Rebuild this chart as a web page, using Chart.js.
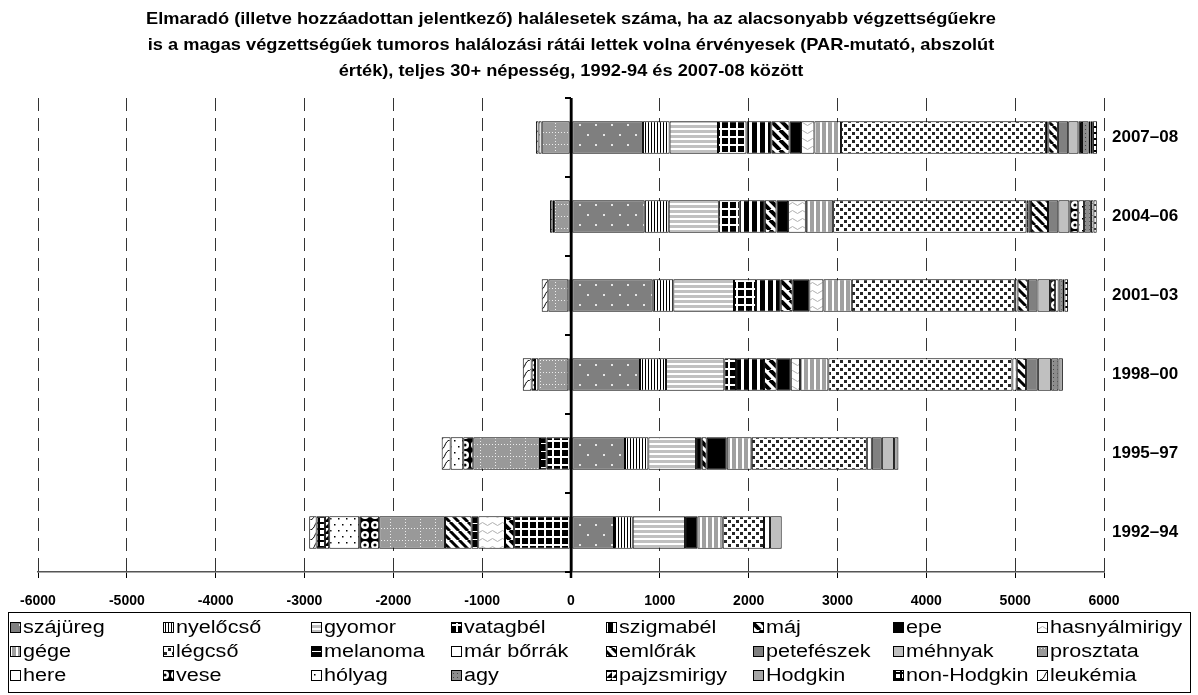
<!DOCTYPE html>
<html><head><meta charset="utf-8">
<script src="https://cdn.jsdelivr.net/npm/chart.js@4/dist/chart.umd.min.js"></script>
<style>html,body{margin:0;padding:0;background:#fff}#wrap{width:1198px;height:695px;position:relative}</style>
</head><body><div id="wrap"><canvas id="c"></canvas></div>
<script>
// ---------- DATA ----------
const categories = ['2007–08','2004–06','2001–03','1998–00','1995–97','1992–94'];
const xTickValues = [-6000,-5000,-4000,-3000,-2000,-1000,0,1000,2000,3000,4000,5000,6000];
const titleLines = [
  'Elmaradó (illetve hozzáadottan jelentkező) halálesetek száma, ha az alacsonyabb végzettségűekre',
  'is a magas végzettségűek tumoros halálozási rátái lettek volna érvényesek (PAR-mutató, abszolút',
  'érték), teljes 30+ népesség, 1992-94 és 2007-08 között'
];
const seriesNames = ['szájüreg','nyelőcső','gyomor','vatagbél','szigmabél','máj','epe','hasnyálmirigy',
  'gége','légcső','melanoma','már bőrrák','emlőrák','petefészek','méhnyak','prosztata',
  'here','vese','hólyag','agy','pajzsmirigy','Hodgkin','non-Hodgkin','leukémia'];
// values per category: 2007–08, 2004–06, 2001–03, 1998–00, 1995–97, 1992–94
const szajureg     = [810, 830, 920, 777, 608, 484];
const nyelocso     = [300, 270, 232, 293, 263, 211];
const gyomor       = [545, 564, 683, 656, 537, 589];
const vastagbel    = [320, 236, 248, 132, -274, -640];
const szigmabel    = [280, 282, 278, 315, 64, 0];
const maj          = [205, 131, 135, 143, 56, -103];
const epe          = [130, 131, 187, 158, 225, 138];
const hasnyal      = [150, 199, 158, 105, 0, -301];
const gege         = [300, 308, 320, 318, 282, 286];
const legcso       = [2306, 2176, 1835, 2072, 1295, 465];
const melanoma     = [15, 25, -30, -30, -75, -74];
const marborrak    = [12, 25, 31, 49, 56, 68];
const emlorak      = [108, 193, 116, 105, 0, -301];
const petefeszek   = [116, 116, 108, 132, 113, 0];
const mehnyak      = [115, 124, 142, 150, 138, 131];
const prosztata    = [-330, -190, -225, -338, -751, -740];
const here         = [0, 0, 0, -37, 0, 0];
const vese         = [40, 100, 57, -38, -113, -225];
const holyag       = [-35, 66, 39, 0, -142, -338];
const agy          = [75, 76, 46, 82, 0, 0];
const pajzsmirigy  = [20, 30, 20, 0, 0, -48];
const hodgkin      = [20, -20, 0, 50, 49, 0];
const nonHodgkin   = [55, 36, 41, 0, 0, -93];
const leukemia     = [-30, -26, -75, -100, -101, -84];
const seriesData = [szajureg, nyelocso, gyomor, vastagbel, szigmabel, maj, epe, hasnyal,
  gege, legcso, melanoma, marborrak, emlorak, petefeszek, mehnyak, prosztata,
  here, vese, holyag, agy, pajzsmirigy, hodgkin, nonHodgkin, leukemia];

// ---------- PATTERNS ----------
function tile(w, h, fn) {
  const c = document.createElement('canvas'); c.width = w; c.height = h;
  const g = c.getContext('2d'); fn(g, w, h); return g.createPattern(c, 'repeat');
}
function fill(g, col, x, y, w, h) { g.fillStyle = col; g.fillRect(x, y, w, h); }
function diag(g, w, h, lw, col) {
  g.strokeStyle = col; g.lineWidth = lw;
  for (const o of [-w, 0, w]) { g.beginPath(); g.moveTo(o, 0); g.lineTo(o + w, h); g.stroke(); }
}
const patterns = [
  tile(16, 20, g => { fill(g,'#7f7f7f',0,0,16,20); fill(g,'#e6e6e6',3,4,2,2); fill(g,'#e6e6e6',11,14,2,2); }),
  tile(3, 1, g => { fill(g,'#fff',0,0,3,1); fill(g,'#000',0,0,1,1); }),
  tile(1, 5, g => { fill(g,'#fff',0,0,1,5); fill(g,'#c0c0c0',0,0,1,3); }),
  tile(8, 8, g => { fill(g,'#000',0,0,8,8); fill(g,'#fff',0,0,2,8); fill(g,'#fff',0,0,8,2); }),
  tile(8, 1, g => { fill(g,'#fff',0,0,8,1); fill(g,'#000',0,0,5,1); }),
  tile(10, 10, g => { fill(g,'#fff',0,0,10,10); diag(g,10,10,4,'#000'); }),
  '#000000',
  tile(10, 8, g => { fill(g,'#fff',0,0,10,8); g.strokeStyle='#b0b0b0'; g.lineWidth=1; g.beginPath(); g.moveTo(0,4); g.quadraticCurveTo(2.5,1,5,4); g.quadraticCurveTo(7.5,7,10,4); g.stroke(); }),
  tile(6, 1, g => { fill(g,'#fff',0,0,6,1); fill(g,'#a0a0a0',0,0,4,1); }),
  tile(8, 8, g => { fill(g,'#fff',0,0,8,8); fill(g,'#262626',0,0,3,3); fill(g,'#262626',4,4,3,3); }),
  tile(4, 8, g => { fill(g,'#000',0,0,4,8); fill(g,'#fff',0,3,4,1); }),
  '#ffffff',
  tile(9, 9, g => { fill(g,'#fff',0,0,9,9); diag(g,9,9,3,'#000'); }),
  '#808080',
  '#c0c0c0',
  tile(15, 12, g => { fill(g,'#999',0,0,15,12); for (let y=0;y<12;y+=3) fill(g,'#eee',0,y,1,1); for (let x=0;x<15;x+=3) fill(g,'#eee',x,0,1,1); }),
  '#ffffff',
  tile(10, 10, g => { fill(g,'#000',0,0,10,10); g.fillStyle='#fff'; g.beginPath(); g.arc(5,5,4,0,Math.PI*2); g.fill(); g.fillStyle='#000'; g.beginPath(); g.arc(5,5,1.6,0,Math.PI*2); g.fill(); }),
  tile(8, 12, g => { fill(g,'#fff',0,0,8,12); fill(g,'#000',2,2,1.5,1.5); fill(g,'#000',6,8,1.5,1.5); }),
  tile(4, 4, g => { fill(g,'#8c8c8c',0,0,4,4); fill(g,'#444',1,1,1,1); }),
  tile(6, 6, g => { fill(g,'#fff',0,0,6,6); g.fillStyle='#000'; g.beginPath(); g.moveTo(6,0); g.lineTo(6,6); g.lineTo(0,6); g.fill(); }),
  '#a6a6a6',
  tile(6, 6, g => { fill(g,'#fff',0,0,6,6); fill(g,'#000',0,0,2,6); fill(g,'#000',0,0,6,2); }),
  tile(10, 10, g => { fill(g,'#fff',0,0,10,10); g.strokeStyle='#000'; g.lineWidth=1; g.beginPath(); g.moveTo(0,10); g.bezierCurveTo(6,9,4,1,10,0); g.stroke(); })
];

// ---------- PLUGINS ----------
const FONT = "'Liberation Sans', Arial, sans-serif";
const titlePlugin = {
  id: 'titleText',
  afterDraw(chart) {
    const ctx = chart.ctx, a = chart.chartArea;
    const cx = (a.left + a.right) / 2;
    ctx.save();
    ctx.fillStyle = '#000'; ctx.font = 'bold 17px ' + FONT;
    ctx.textAlign = 'center'; ctx.textBaseline = 'middle';
    const sx = 850 / ctx.measureText(titleLines[0]).width;
    titleLines.forEach((t, i) => {
      ctx.save(); ctx.translate(cx, 19 + i * 26); ctx.scale(sx, 1); ctx.fillText(t, 0, 0); ctx.restore();
    });
    ctx.restore();
  }
};
const axisPlugin = {
  id: 'zeroAxis',
  afterDatasetsDraw(chart) {
    const ctx = chart.ctx, a = chart.chartArea, xs = chart.scales.x, ys = chart.scales.y;
    const x0 = xs.getPixelForValue(0);
    ctx.save();
    ctx.strokeStyle = '#000'; ctx.lineWidth = 2.5;
    ctx.beginPath(); ctx.moveTo(x0, a.top); ctx.lineTo(x0, a.bottom + 6); ctx.stroke();
    ctx.lineWidth = 2;
    const n = categories.length;
    for (let i = 0; i <= n; i++) {
      let y;
      if (i === 0) y = a.top; else if (i === n) y = a.bottom;
      else y = (ys.getPixelForTick(i - 1) + ys.getPixelForTick(i)) / 2;
      ctx.beginPath(); ctx.moveTo(x0 - 6, y); ctx.lineTo(x0, y); ctx.stroke();
    }
    ctx.restore();
  }
};
const legendPlugin = {
  id: 'gridLegend',
  afterDraw(chart) {
    const ctx = chart.ctx;
    const colX = [10, 163, 311, 451, 606, 753, 893, 1037];
    const rowY = [627, 651, 675];
    ctx.save();
    ctx.strokeStyle = '#000'; ctx.lineWidth = 1;
    ctx.strokeRect(8.5, 612.5, 1182, 80);
    ctx.font = '18px ' + FONT; ctx.textBaseline = 'middle'; ctx.fillStyle = '#000';
    seriesNames.forEach((name, k) => {
      const x = colX[k % 8], y = rowY[Math.floor(k / 8)];
      ctx.fillStyle = patterns[k];
      ctx.fillRect(x, y - 5, 11, 11);
      ctx.strokeStyle = '#000'; ctx.strokeRect(x + 0.5, y - 4.5, 10, 10);
      ctx.fillStyle = '#000';
      ctx.save(); ctx.translate(x + 13, y + 1); ctx.scale(1.2, 1); ctx.fillText(name, 0, 0); ctx.restore();
    });
    ctx.restore();
  }
};

// ---------- CHART ----------
Chart.defaults.font.family = FONT;
Chart.defaults.color = '#000';
const datasets = seriesNames.map((name, i) => ({
  label: name,
  data: seriesData[i],
  backgroundColor: patterns[i],
  borderColor: '#000',
  borderWidth: 1,
  borderSkipped: false,
  barPercentage: 0.41,
  categoryPercentage: 1,
  stack: 'all'
}));

new Chart(document.getElementById('c'), {
  type: 'bar',
  data: { labels: categories, datasets },
  options: {
    indexAxis: 'y',
    responsive: true,
    maintainAspectRatio: false,
    animation: false,
    layout: { padding: { left: 38, right: 0, top: 98, bottom: 83 } },
    plugins: { legend: { display: false }, title: { display: false }, tooltip: { enabled: false } },
    scales: {
      x: {
        stacked: true, min: -6000, max: 6000,
        afterBuildTicks: s => { s.ticks = xTickValues.map(v => ({ value: v })); },
        afterFit: s => { s.height = 40; },
        ticks: { font: { size: 14, weight: 'bold' }, padding: 15, maxRotation: 0, autoSkip: false,
                 callback: v => String(v) },
        grid: {
          color: c => (c.tick && c.tick.value === 0) ? '#000' : '#333',
          lineWidth: c => (c.tick && c.tick.value === 0) ? 2.5 : 1,
          drawTicks: true, tickLength: 6, tickColor: '#000', tickWidth: 1
        },
        border: { display: true, color: '#555', width: 1.5,
                  dash: c => (c.type === 'tick' && c.tick && c.tick.value !== 0) ? [13, 7] : [] }
      },
      y: {
        stacked: true, position: 'right',
        afterFit: s => { s.width = 94; },
        ticks: { font: { size: 17, weight: 'bold' }, crossAlign: 'near', padding: 8 },
        grid: { display: false, drawTicks: false },
        border: { display: false }
      }
    }
  },
  plugins: [titlePlugin, axisPlugin, legendPlugin]
});
</script>
</body></html>
